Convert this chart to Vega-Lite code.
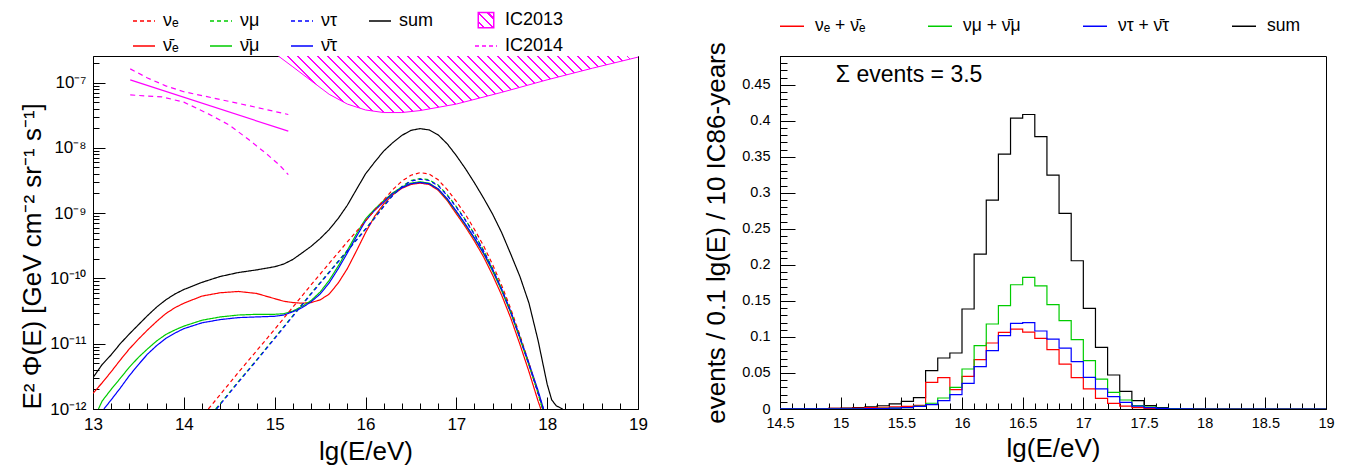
{
  "$schema": "https://vega.github.io/schema/vega-lite/v6.json",
  "background": "white",
  "padding": {"left": 18, "top": 7, "right": 0, "bottom": 0},
  "spacing": 55,
  "config": {
    "font": "Liberation Sans",
    "view": {"stroke": "black", "strokeWidth": 1},
    "axis": {"domainColor": "black", "tickColor": "black", "labelColor": "black", "titleColor": "black", "grid": false, "labelFont": "Liberation Sans", "titleFont": "Liberation Sans", "titleFontWeight": "normal", "domainWidth": 1, "tickWidth": 1},
    "legend": {"labelFont": "Liberation Sans", "labelColor": "black"}
  },
  "resolve": {"scale": {"color": "independent", "strokeDash": "independent"}},
  "hconcat": [
    {
      "width": 545,
      "height": 353,
      "resolve": {"axis": {"x": "independent", "y": "independent"}},
      "data": {"values": [
        {"s":"IC2013","x":15.04,"v":2.55e-7},{"s":"IC2013","x":15.2,"v":1.74e-7},{"s":"IC2013","x":15.4,"v":1.07e-7},{"s":"IC2013","x":15.6,"v":6.61e-8},{"s":"IC2013","x":15.8,"v":4.68e-8},{"s":"IC2013","x":16.0,"v":3.8e-8},{"s":"IC2013","x":16.2,"v":3.47e-8},{"s":"IC2013","x":16.4,"v":3.47e-8},{"s":"IC2013","x":16.6,"v":3.72e-8},{"s":"IC2013","x":17.0,"v":4.68e-8},{"s":"IC2013","x":17.5,"v":7.08e-8},{"s":"IC2013","x":18.0,"v":1.1e-7},{"s":"IC2013","x":18.5,"v":1.66e-7},{"s":"IC2013","x":19.0,"v":2.45e-7},
        {"s":"IC2014 fit","x":13.41,"v":1.1e-7},{"s":"IC2014 fit","x":15.15,"v":1.8e-8},
        {"s":"IC2014 up","x":13.41,"v":1.62e-7},{"s":"IC2014 up","x":13.6,"v":1.175e-7},{"s":"IC2014 up","x":13.8,"v":8.91e-8},{"s":"IC2014 up","x":14.0,"v":7.24e-8},{"s":"IC2014 up","x":14.3,"v":5.89e-8},{"s":"IC2014 up","x":14.7,"v":4.47e-8},{"s":"IC2014 up","x":15.15,"v":3.24e-8},
        {"s":"IC2014 low","x":13.41,"v":6.46e-8},{"s":"IC2014 low","x":13.76,"v":6.03e-8},{"s":"IC2014 low","x":14.0,"v":5.01e-8},{"s":"IC2014 low","x":14.27,"v":3.31e-8},{"s":"IC2014 low","x":14.5,"v":2.24e-8},{"s":"IC2014 low","x":14.71,"v":1.35e-8},{"s":"IC2014 low","x":14.9,"v":8.32e-9},{"s":"IC2014 low","x":15.05,"v":5.5e-9},{"s":"IC2014 low","x":15.15,"v":3.89e-9},
        {"s":"sum","x":13,"v":3.02e-12},{"s":"sum","x":13.1,"v":4.79e-12},{"s":"sum","x":13.2,"v":6.76e-12},{"s":"sum","x":13.3,"v":1e-11},{"s":"sum","x":13.4,"v":1.41e-11},{"s":"sum","x":13.5,"v":1.95e-11},{"s":"sum","x":13.6,"v":2.69e-11},{"s":"sum","x":13.7,"v":3.63e-11},{"s":"sum","x":13.8,"v":4.68e-11},{"s":"sum","x":13.9,"v":5.75e-11},{"s":"sum","x":14,"v":6.76e-11},{"s":"sum","x":14.2,"v":8.71e-11},{"s":"sum","x":14.4,"v":1.07e-10},{"s":"sum","x":14.6,"v":1.23e-10},{"s":"sum","x":14.8,"v":1.35e-10},{"s":"sum","x":15,"v":1.51e-10},{"s":"sum","x":15.1,"v":1.66e-10},{"s":"sum","x":15.2,"v":1.95e-10},{"s":"sum","x":15.3,"v":2.45e-10},{"s":"sum","x":15.4,"v":3.09e-10},{"s":"sum","x":15.5,"v":4.07e-10},{"s":"sum","x":15.6,"v":5.6e-10},{"s":"sum","x":15.7,"v":8.3e-10},{"s":"sum","x":15.8,"v":1.32e-9},{"s":"sum","x":15.9,"v":2.3e-9},{"s":"sum","x":16,"v":3.98e-9},{"s":"sum","x":16.1,"v":6.03e-9},{"s":"sum","x":16.2,"v":8.91e-9},{"s":"sum","x":16.3,"v":1.2e-8},{"s":"sum","x":16.4,"v":1.55e-8},{"s":"sum","x":16.5,"v":1.85e-8},{"s":"sum","x":16.6,"v":1.97e-8},{"s":"sum","x":16.7,"v":1.88e-8},{"s":"sum","x":16.8,"v":1.58e-8},{"s":"sum","x":16.9,"v":1.15e-8},{"s":"sum","x":17,"v":7.6e-9},{"s":"sum","x":17.1,"v":4.8e-9},{"s":"sum","x":17.2,"v":2.9e-9},{"s":"sum","x":17.3,"v":1.7e-9},{"s":"sum","x":17.4,"v":9.6e-10},{"s":"sum","x":17.5,"v":5e-10},{"s":"sum","x":17.6,"v":2.34e-10},{"s":"sum","x":17.7,"v":1.07e-10},{"s":"sum","x":17.8,"v":4.17e-11},{"s":"sum","x":17.9,"v":1.12e-11},{"s":"sum","x":18,"v":2.4e-12},{"s":"sum","x":18.05,"v":1.38e-12},{"s":"sum","x":18.1,"v":1.12e-12},{"s":"sum","x":18.17,"v":1e-12},
        {"s":"ν̄ₑ","x":13,"v":1.74e-12},{"s":"ν̄ₑ","x":13.1,"v":2.51e-12},{"s":"ν̄ₑ","x":13.2,"v":3.72e-12},{"s":"ν̄ₑ","x":13.3,"v":5.62e-12},{"s":"ν̄ₑ","x":13.4,"v":8.32e-12},{"s":"ν̄ₑ","x":13.5,"v":1.175e-11},{"s":"ν̄ₑ","x":13.6,"v":1.62e-11},{"s":"ν̄ₑ","x":13.7,"v":2.19e-11},{"s":"ν̄ₑ","x":13.8,"v":2.88e-11},{"s":"ν̄ₑ","x":13.9,"v":3.55e-11},{"s":"ν̄ₑ","x":14,"v":4.17e-11},{"s":"ν̄ₑ","x":14.2,"v":5.37e-11},{"s":"ν̄ₑ","x":14.4,"v":6.03e-11},{"s":"ν̄ₑ","x":14.6,"v":6.31e-11},{"s":"ν̄ₑ","x":14.8,"v":5.89e-11},{"s":"ν̄ₑ","x":15,"v":4.9e-11},{"s":"ν̄ₑ","x":15.1,"v":4.47e-11},{"s":"ν̄ₑ","x":15.2,"v":4.27e-11},{"s":"ν̄ₑ","x":15.3,"v":4.17e-11},{"s":"ν̄ₑ","x":15.4,"v":4.27e-11},{"s":"ν̄ₑ","x":15.5,"v":4.68e-11},{"s":"ν̄ₑ","x":15.6,"v":5.75e-11},{"s":"ν̄ₑ","x":15.7,"v":8.51e-11},{"s":"ν̄ₑ","x":15.8,"v":1.41e-10},{"s":"ν̄ₑ","x":15.9,"v":2.63e-10},{"s":"ν̄ₑ","x":16,"v":5.01e-10},{"s":"ν̄ₑ","x":16.1,"v":8.91e-10},{"s":"ν̄ₑ","x":16.2,"v":1.38e-9},{"s":"ν̄ₑ","x":16.3,"v":1.91e-9},{"s":"ν̄ₑ","x":16.4,"v":2.4e-9},{"s":"ν̄ₑ","x":16.5,"v":2.75e-9},{"s":"ν̄ₑ","x":16.6,"v":2.88e-9},{"s":"ν̄ₑ","x":16.7,"v":2.75e-9},{"s":"ν̄ₑ","x":16.8,"v":2.24e-9},{"s":"ν̄ₑ","x":16.9,"v":1.55e-9},{"s":"ν̄ₑ","x":17,"v":9.77e-10},{"s":"ν̄ₑ","x":17.1,"v":6.17e-10},{"s":"ν̄ₑ","x":17.2,"v":3.72e-10},{"s":"ν̄ₑ","x":17.3,"v":2.14e-10},{"s":"ν̄ₑ","x":17.4,"v":1.12e-10},{"s":"ν̄ₑ","x":17.5,"v":5.5e-11},{"s":"ν̄ₑ","x":17.6,"v":2.45e-11},{"s":"ν̄ₑ","x":17.7,"v":9.77e-12},{"s":"ν̄ₑ","x":17.8,"v":3.72e-12},{"s":"ν̄ₑ","x":17.9,"v":1.32e-12},{"s":"ν̄ₑ","x":17.93,"v":1e-12},
        {"s":"ν̄μ","x":13.06,"v":1e-12},{"s":"ν̄μ","x":13.1,"v":1.32e-12},{"s":"ν̄μ","x":13.2,"v":2e-12},{"s":"ν̄μ","x":13.3,"v":2.95e-12},{"s":"ν̄μ","x":13.4,"v":4.37e-12},{"s":"ν̄μ","x":13.5,"v":6.17e-12},{"s":"ν̄μ","x":13.6,"v":8.32e-12},{"s":"ν̄μ","x":13.7,"v":1.1e-11},{"s":"ν̄μ","x":13.8,"v":1.38e-11},{"s":"ν̄μ","x":13.9,"v":1.62e-11},{"s":"ν̄μ","x":14,"v":1.86e-11},{"s":"ν̄μ","x":14.2,"v":2.29e-11},{"s":"ν̄μ","x":14.4,"v":2.57e-11},{"s":"ν̄μ","x":14.6,"v":2.75e-11},{"s":"ν̄μ","x":14.8,"v":2.82e-11},{"s":"ν̄μ","x":15,"v":2.82e-11},{"s":"ν̄μ","x":15.1,"v":2.88e-11},{"s":"ν̄μ","x":15.2,"v":3.16e-11},{"s":"ν̄μ","x":15.3,"v":3.72e-11},{"s":"ν̄μ","x":15.4,"v":4.57e-11},{"s":"ν̄μ","x":15.5,"v":6.17e-11},{"s":"ν̄μ","x":15.6,"v":9.33e-11},{"s":"ν̄μ","x":15.7,"v":1.55e-10},{"s":"ν̄μ","x":15.8,"v":2.69e-10},{"s":"ν̄μ","x":15.9,"v":4.79e-10},{"s":"ν̄μ","x":16,"v":8.13e-10},{"s":"ν̄μ","x":16.1,"v":1.15e-9},{"s":"ν̄μ","x":16.2,"v":1.55e-9},{"s":"ν̄μ","x":16.3,"v":2.04e-9},{"s":"ν̄μ","x":16.4,"v":2.51e-9},{"s":"ν̄μ","x":16.5,"v":2.88e-9},{"s":"ν̄μ","x":16.6,"v":3.02e-9},{"s":"ν̄μ","x":16.7,"v":2.88e-9},{"s":"ν̄μ","x":16.8,"v":2.34e-9},{"s":"ν̄μ","x":16.9,"v":1.62e-9},{"s":"ν̄μ","x":17,"v":1.05e-9},{"s":"ν̄μ","x":17.1,"v":6.61e-10},{"s":"ν̄μ","x":17.2,"v":4.07e-10},{"s":"ν̄μ","x":17.3,"v":2.4e-10},{"s":"ν̄μ","x":17.4,"v":1.29e-10},{"s":"ν̄μ","x":17.5,"v":6.46e-11},{"s":"ν̄μ","x":17.6,"v":2.95e-11},{"s":"ν̄μ","x":17.7,"v":1.2e-11},{"s":"ν̄μ","x":17.8,"v":4.68e-12},{"s":"ν̄μ","x":17.9,"v":1.78e-12},{"s":"ν̄μ","x":17.95,"v":1e-12},
        {"s":"ν̄τ","x":13.12,"v":1e-12},{"s":"ν̄τ","x":13.2,"v":1.38e-12},{"s":"ν̄τ","x":13.3,"v":2.09e-12},{"s":"ν̄τ","x":13.4,"v":3.24e-12},{"s":"ν̄τ","x":13.5,"v":4.79e-12},{"s":"ν̄τ","x":13.6,"v":6.92e-12},{"s":"ν̄τ","x":13.7,"v":9.33e-12},{"s":"ν̄τ","x":13.8,"v":1.2e-11},{"s":"ν̄τ","x":13.9,"v":1.45e-11},{"s":"ν̄τ","x":14,"v":1.7e-11},{"s":"ν̄τ","x":14.2,"v":2.09e-11},{"s":"ν̄τ","x":14.4,"v":2.34e-11},{"s":"ν̄τ","x":14.6,"v":2.51e-11},{"s":"ν̄τ","x":14.8,"v":2.57e-11},{"s":"ν̄τ","x":15,"v":2.63e-11},{"s":"ν̄τ","x":15.1,"v":2.75e-11},{"s":"ν̄τ","x":15.2,"v":3.09e-11},{"s":"ν̄τ","x":15.3,"v":3.55e-11},{"s":"ν̄τ","x":15.4,"v":4.37e-11},{"s":"ν̄τ","x":15.5,"v":5.75e-11},{"s":"ν̄τ","x":15.6,"v":8.51e-11},{"s":"ν̄τ","x":15.7,"v":1.41e-10},{"s":"ν̄τ","x":15.8,"v":2.45e-10},{"s":"ν̄τ","x":15.9,"v":4.37e-10},{"s":"ν̄τ","x":16,"v":7.59e-10},{"s":"ν̄τ","x":16.1,"v":1.1e-9},{"s":"ν̄τ","x":16.2,"v":1.48e-9},{"s":"ν̄τ","x":16.3,"v":2e-9},{"s":"ν̄τ","x":16.4,"v":2.45e-9},{"s":"ν̄τ","x":16.5,"v":2.82e-9},{"s":"ν̄τ","x":16.6,"v":2.95e-9},{"s":"ν̄τ","x":16.7,"v":2.82e-9},{"s":"ν̄τ","x":16.8,"v":2.34e-9},{"s":"ν̄τ","x":16.9,"v":1.66e-9},{"s":"ν̄τ","x":17,"v":1.07e-9},{"s":"ν̄τ","x":17.1,"v":6.76e-10},{"s":"ν̄τ","x":17.2,"v":4.17e-10},{"s":"ν̄τ","x":17.3,"v":2.45e-10},{"s":"ν̄τ","x":17.4,"v":1.35e-10},{"s":"ν̄τ","x":17.5,"v":6.76e-11},{"s":"ν̄τ","x":17.6,"v":3.09e-11},{"s":"ν̄τ","x":17.7,"v":1.26e-11},{"s":"ν̄τ","x":17.8,"v":5.01e-12},{"s":"ν̄τ","x":17.9,"v":1.91e-12},{"s":"ν̄τ","x":17.96,"v":1e-12},
        {"s":"νₑ","x":14.27,"v":1e-12},{"s":"νₑ","x":14.4,"v":1.66e-12},{"s":"νₑ","x":14.6,"v":3.63e-12},{"s":"νₑ","x":14.8,"v":7.76e-12},{"s":"νₑ","x":15,"v":1.66e-11},{"s":"νₑ","x":15.2,"v":3.63e-11},{"s":"νₑ","x":15.4,"v":7.94e-11},{"s":"νₑ","x":15.6,"v":1.7e-10},{"s":"νₑ","x":15.8,"v":3.63e-10},{"s":"νₑ","x":16,"v":7.59e-10},{"s":"νₑ","x":16.1,"v":1.1e-9},{"s":"νₑ","x":16.2,"v":1.58e-9},{"s":"νₑ","x":16.3,"v":2.29e-9},{"s":"νₑ","x":16.4,"v":3.09e-9},{"s":"νₑ","x":16.5,"v":3.8e-9},{"s":"νₑ","x":16.6,"v":4.17e-9},{"s":"νₑ","x":16.7,"v":3.98e-9},{"s":"νₑ","x":16.8,"v":3.24e-9},{"s":"νₑ","x":16.9,"v":2.29e-9},{"s":"νₑ","x":17,"v":1.51e-9},{"s":"νₑ","x":17.1,"v":9.55e-10},{"s":"νₑ","x":17.2,"v":5.62e-10},{"s":"νₑ","x":17.3,"v":3.16e-10},{"s":"νₑ","x":17.4,"v":1.62e-10},{"s":"νₑ","x":17.5,"v":7.76e-11},{"s":"νₑ","x":17.6,"v":3.39e-11},{"s":"νₑ","x":17.7,"v":1.35e-11},{"s":"νₑ","x":17.8,"v":5.01e-12},{"s":"νₑ","x":17.9,"v":1.74e-12},{"s":"νₑ","x":17.95,"v":1e-12},
        {"s":"νμ","x":14.35,"v":1e-12},{"s":"νμ","x":14.4,"v":1.2e-12},{"s":"νμ","x":14.6,"v":2.63e-12},{"s":"νμ","x":14.8,"v":5.62e-12},{"s":"νμ","x":15,"v":1.23e-11},{"s":"νμ","x":15.2,"v":2.69e-11},{"s":"νμ","x":15.4,"v":5.89e-11},{"s":"νμ","x":15.6,"v":1.26e-10},{"s":"νμ","x":15.8,"v":2.69e-10},{"s":"νμ","x":16,"v":5.75e-10},{"s":"νμ","x":16.1,"v":8.51e-10},{"s":"νμ","x":16.2,"v":1.29e-9},{"s":"νμ","x":16.3,"v":1.91e-9},{"s":"νμ","x":16.4,"v":2.57e-9},{"s":"νμ","x":16.5,"v":3.16e-9},{"s":"νμ","x":16.6,"v":3.39e-9},{"s":"νμ","x":16.7,"v":3.24e-9},{"s":"νμ","x":16.8,"v":2.69e-9},{"s":"νμ","x":16.9,"v":1.91e-9},{"s":"νμ","x":17,"v":1.26e-9},{"s":"νμ","x":17.1,"v":7.94e-10},{"s":"νμ","x":17.2,"v":4.79e-10},{"s":"νμ","x":17.3,"v":2.69e-10},{"s":"νμ","x":17.4,"v":1.41e-10},{"s":"νμ","x":17.5,"v":6.92e-11},{"s":"νμ","x":17.6,"v":3.09e-11},{"s":"νμ","x":17.7,"v":1.26e-11},{"s":"νμ","x":17.8,"v":4.79e-12},{"s":"νμ","x":17.9,"v":1.74e-12},{"s":"νμ","x":17.95,"v":1e-12},
        {"s":"ντ","x":14.36,"v":1e-12},{"s":"ντ","x":14.4,"v":1.17e-12},{"s":"ντ","x":14.6,"v":2.57e-12},{"s":"ντ","x":14.8,"v":5.5e-12},{"s":"ντ","x":15,"v":1.2e-11},{"s":"ντ","x":15.2,"v":2.63e-11},{"s":"ντ","x":15.4,"v":5.75e-11},{"s":"ντ","x":15.6,"v":1.23e-10},{"s":"ντ","x":15.8,"v":2.63e-10},{"s":"ντ","x":16,"v":5.62e-10},{"s":"ντ","x":16.1,"v":8.32e-10},{"s":"ντ","x":16.2,"v":1.26e-9},{"s":"ντ","x":16.3,"v":1.86e-9},{"s":"ντ","x":16.4,"v":2.51e-9},{"s":"ντ","x":16.5,"v":3.09e-9},{"s":"ντ","x":16.6,"v":3.31e-9},{"s":"ντ","x":16.7,"v":3.16e-9},{"s":"ντ","x":16.8,"v":2.63e-9},{"s":"ντ","x":16.9,"v":1.86e-9},{"s":"ντ","x":17,"v":1.23e-9},{"s":"ντ","x":17.1,"v":7.76e-10},{"s":"ντ","x":17.2,"v":4.68e-10},{"s":"ντ","x":17.3,"v":2.63e-10},{"s":"ντ","x":17.4,"v":1.38e-10},{"s":"ντ","x":17.5,"v":6.76e-11},{"s":"ντ","x":17.6,"v":3.02e-11},{"s":"ντ","x":17.7,"v":1.23e-11},{"s":"ντ","x":17.8,"v":4.79e-12},{"s":"ντ","x":17.9,"v":1.74e-12},{"s":"ντ","x":17.96,"v":1e-12}
      ]},
      "layer": [
        {
          "transform": [{"filter": "datum.s == 'IC2013'"}],
          "mark": {"type": "area", "clip": true, "strokeWidth": 0, "fill": {"gradient": "linear", "x1": 0, "y1": 1, "x2": 1.1294, "y2": 0.8222, "stops": [
            {"offset":0,"color":"white"},
            {"offset":0.012,"color":"white"},{"offset":0.012,"color":"magenta"},{"offset":0.016,"color":"magenta"},{"offset":0.016,"color":"white"},
            {"offset":0.036,"color":"white"},{"offset":0.036,"color":"magenta"},{"offset":0.040,"color":"magenta"},{"offset":0.040,"color":"white"},
            {"offset":0.060,"color":"white"},{"offset":0.060,"color":"magenta"},{"offset":0.064,"color":"magenta"},{"offset":0.064,"color":"white"},
            {"offset":0.084,"color":"white"},{"offset":0.084,"color":"magenta"},{"offset":0.088,"color":"magenta"},{"offset":0.088,"color":"white"},
            {"offset":0.108,"color":"white"},{"offset":0.108,"color":"magenta"},{"offset":0.112,"color":"magenta"},{"offset":0.112,"color":"white"},
            {"offset":0.132,"color":"white"},{"offset":0.132,"color":"magenta"},{"offset":0.136,"color":"magenta"},{"offset":0.136,"color":"white"},
            {"offset":0.156,"color":"white"},{"offset":0.156,"color":"magenta"},{"offset":0.160,"color":"magenta"},{"offset":0.160,"color":"white"},
            {"offset":0.180,"color":"white"},{"offset":0.180,"color":"magenta"},{"offset":0.184,"color":"magenta"},{"offset":0.184,"color":"white"},
            {"offset":0.204,"color":"white"},{"offset":0.204,"color":"magenta"},{"offset":0.208,"color":"magenta"},{"offset":0.208,"color":"white"},
            {"offset":0.228,"color":"white"},{"offset":0.228,"color":"magenta"},{"offset":0.232,"color":"magenta"},{"offset":0.232,"color":"white"},
            {"offset":0.252,"color":"white"},{"offset":0.252,"color":"magenta"},{"offset":0.256,"color":"magenta"},{"offset":0.256,"color":"white"},
            {"offset":0.276,"color":"white"},{"offset":0.276,"color":"magenta"},{"offset":0.280,"color":"magenta"},{"offset":0.280,"color":"white"},
            {"offset":0.300,"color":"white"},{"offset":0.300,"color":"magenta"},{"offset":0.304,"color":"magenta"},{"offset":0.304,"color":"white"},
            {"offset":0.324,"color":"white"},{"offset":0.324,"color":"magenta"},{"offset":0.328,"color":"magenta"},{"offset":0.328,"color":"white"},
            {"offset":0.348,"color":"white"},{"offset":0.348,"color":"magenta"},{"offset":0.352,"color":"magenta"},{"offset":0.352,"color":"white"},
            {"offset":0.372,"color":"white"},{"offset":0.372,"color":"magenta"},{"offset":0.376,"color":"magenta"},{"offset":0.376,"color":"white"},
            {"offset":0.396,"color":"white"},{"offset":0.396,"color":"magenta"},{"offset":0.400,"color":"magenta"},{"offset":0.400,"color":"white"},
            {"offset":0.420,"color":"white"},{"offset":0.420,"color":"magenta"},{"offset":0.424,"color":"magenta"},{"offset":0.424,"color":"white"},
            {"offset":0.444,"color":"white"},{"offset":0.444,"color":"magenta"},{"offset":0.448,"color":"magenta"},{"offset":0.448,"color":"white"},
            {"offset":0.468,"color":"white"},{"offset":0.468,"color":"magenta"},{"offset":0.472,"color":"magenta"},{"offset":0.472,"color":"white"},
            {"offset":0.492,"color":"white"},{"offset":0.492,"color":"magenta"},{"offset":0.496,"color":"magenta"},{"offset":0.496,"color":"white"},
            {"offset":0.516,"color":"white"},{"offset":0.516,"color":"magenta"},{"offset":0.520,"color":"magenta"},{"offset":0.520,"color":"white"},
            {"offset":0.540,"color":"white"},{"offset":0.540,"color":"magenta"},{"offset":0.544,"color":"magenta"},{"offset":0.544,"color":"white"},
            {"offset":0.564,"color":"white"},{"offset":0.564,"color":"magenta"},{"offset":0.568,"color":"magenta"},{"offset":0.568,"color":"white"},
            {"offset":0.588,"color":"white"},{"offset":0.588,"color":"magenta"},{"offset":0.592,"color":"magenta"},{"offset":0.592,"color":"white"},
            {"offset":0.612,"color":"white"},{"offset":0.612,"color":"magenta"},{"offset":0.616,"color":"magenta"},{"offset":0.616,"color":"white"},
            {"offset":0.636,"color":"white"},{"offset":0.636,"color":"magenta"},{"offset":0.640,"color":"magenta"},{"offset":0.640,"color":"white"},
            {"offset":0.660,"color":"white"},{"offset":0.660,"color":"magenta"},{"offset":0.664,"color":"magenta"},{"offset":0.664,"color":"white"},
            {"offset":0.684,"color":"white"},{"offset":0.684,"color":"magenta"},{"offset":0.688,"color":"magenta"},{"offset":0.688,"color":"white"},
            {"offset":0.708,"color":"white"},{"offset":0.708,"color":"magenta"},{"offset":0.712,"color":"magenta"},{"offset":0.712,"color":"white"},
            {"offset":0.732,"color":"white"},{"offset":0.732,"color":"magenta"},{"offset":0.736,"color":"magenta"},{"offset":0.736,"color":"white"},
            {"offset":0.756,"color":"white"},{"offset":0.756,"color":"magenta"},{"offset":0.760,"color":"magenta"},{"offset":0.760,"color":"white"},
            {"offset":0.780,"color":"white"},{"offset":0.780,"color":"magenta"},{"offset":0.784,"color":"magenta"},{"offset":0.784,"color":"white"},
            {"offset":0.804,"color":"white"},{"offset":0.804,"color":"magenta"},{"offset":0.808,"color":"magenta"},{"offset":0.808,"color":"white"},
            {"offset":0.828,"color":"white"},{"offset":0.828,"color":"magenta"},{"offset":0.832,"color":"magenta"},{"offset":0.832,"color":"white"},
            {"offset":0.852,"color":"white"},{"offset":0.852,"color":"magenta"},{"offset":0.856,"color":"magenta"},{"offset":0.856,"color":"white"},
            {"offset":0.876,"color":"white"},{"offset":0.876,"color":"magenta"},{"offset":0.880,"color":"magenta"},{"offset":0.880,"color":"white"},
            {"offset":0.900,"color":"white"},{"offset":0.900,"color":"magenta"},{"offset":0.904,"color":"magenta"},{"offset":0.904,"color":"white"},
            {"offset":0.924,"color":"white"},{"offset":0.924,"color":"magenta"},{"offset":0.928,"color":"magenta"},{"offset":0.928,"color":"white"},
            {"offset":0.948,"color":"white"},{"offset":0.948,"color":"magenta"},{"offset":0.952,"color":"magenta"},{"offset":0.952,"color":"white"},
            {"offset":0.972,"color":"white"},{"offset":0.972,"color":"magenta"},{"offset":0.976,"color":"magenta"},{"offset":0.976,"color":"white"},
            {"offset":1,"color":"white"}
          ]}},
          "encoding": {
            "x": {"field": "x", "type": "quantitative", "scale": {"domain": [13, 19], "nice": false, "zero": false}, "axis": {
              "orient": "bottom", "title": null, "labels": false, "domain": false, "ticks": true, "tickSize": -6,
              "values": [13.2,13.4,13.6,13.8,14.2,14.4,14.6,14.8,15.2,15.4,15.6,15.8,16.2,16.4,16.6,16.8,17.2,17.4,17.6,17.8,18.2,18.4,18.6,18.8]
            }},
            "y": {"field": "v", "type": "quantitative", "scale": {"type": "log", "domain": [1e-12, 2.55e-7], "nice": false}, "axis": {
              "orient": "left", "title": null, "labels": false, "domain": false, "ticks": true, "tickSize": -6,
              "values": [2e-12,3e-12,4e-12,5e-12,6e-12,7e-12,8e-12,9e-12,2e-11,3e-11,4e-11,5e-11,6e-11,7e-11,8e-11,9e-11,2e-10,3e-10,4e-10,5e-10,6e-10,7e-10,8e-10,9e-10,2e-9,3e-9,4e-9,5e-9,6e-9,7e-9,8e-9,9e-9,2e-8,3e-8,4e-8,5e-8,6e-8,7e-8,8e-8,9e-8,2e-7]
            }},
            "y2": {"datum": 2.55e-7}
          }
        },
        {
          "transform": [{"filter": "datum.s == 'IC2013'"}],
          "mark": {"type": "line", "clip": true, "color": "magenta", "strokeWidth": 1},
          "encoding": {
            "x": {"field": "x", "type": "quantitative", "axis": null},
            "y": {"field": "v", "type": "quantitative", "axis": null}
          }
        },
        {
          "transform": [{"filter": "datum.s == 'IC2014 fit'"}],
          "mark": {"type": "line", "clip": true, "color": "magenta", "strokeWidth": 1.2},
          "encoding": {
            "x": {"field": "x", "type": "quantitative", "axis": null},
            "y": {"field": "v", "type": "quantitative", "axis": null}
          }
        },
        {
          "transform": [{"filter": "datum.s == 'IC2014 up' || datum.s == 'IC2014 low'"}],
          "mark": {"type": "line", "clip": true, "color": "magenta", "strokeWidth": 1.2, "strokeDash": [5, 4]},
          "encoding": {
            "x": {"field": "x", "type": "quantitative", "axis": null},
            "y": {"field": "v", "type": "quantitative", "axis": null},
            "detail": {"field": "s"}
          }
        },
        {
          "transform": [{"filter": "indexof(datum.s, 'IC') < 0"}],
          "mark": {"type": "line", "clip": true, "strokeWidth": 1.2},
          "encoding": {
            "x": {"field": "x", "type": "quantitative", "axis": {
              "orient": "bottom", "title": "lg(E/eV)", "titleFontSize": 26, "titlePadding": 6,
              "values": [13,14,15,16,17,18,19], "tickSize": -12,
              "labelPadding": 19, "labelFontSize": 17, "labelOverlap": false, "labelFlush": false
            }},
            "y": {"field": "v", "type": "quantitative", "axis": {
              "orient": "left", "title": "E² Φ(E) [GeV cm⁻² sr⁻¹ s⁻¹]", "titleFontSize": 26, "titleAnchor": "start", "titlePadding": 4,
              "values": [1e-12,1e-11,1e-10,1e-9,1e-8,1e-7], "tickSize": -12,
              "labelExpr": "datum.value < 5e-12 ? '10⁻¹²' : datum.value < 5e-11 ? '10⁻¹¹' : datum.value < 5e-10 ? '10⁻¹⁰' : datum.value < 5e-9 ? '10⁻⁹' : datum.value < 5e-8 ? '10⁻⁸' : '10⁻⁷'",
              "labelPadding": 19, "labelFontSize": 17, "labelOverlap": false, "labelFlush": false
            }},
            "color": {"field": "s", "type": "nominal",
              "scale": {"domain": ["νₑ","νμ","ντ","sum","IC2013","ν̄ₑ","ν̄μ","ν̄τ","mmm","IC2014"], "range": ["#ff0000","#00cc00","#0000ff","#000000","#ff00ff","#ff0000","#00cc00","#0000ff","#ffffff","#ff00ff"]},
              "legend": {"orient": "none", "legendX": 39, "legendY": -48, "direction": "horizontal", "columns": 5, "title": null, "padding": 0,
                "symbolType": "stroke", "symbolSize": 484, "symbolStrokeWidth": 1.5, "labelFontSize": 18, "labelOffset": 7, "columnPadding": 28, "rowPadding": 3,
                "encode": {
                  "symbols": {"update": {
                    "shape": {"signal": "datum.value == 'IC2013' ? 'square' : 'stroke'"},
                    "size": {"signal": "datum.value == 'IC2013' ? 240 : 484"},
                    "fill": {"value": {"gradient": "linear", "x1": 0, "y1": 1, "x2": 1, "y2": 0, "stops": [{"offset":0,"color":"white"},{"offset":0.17,"color":"white"},{"offset":0.17,"color":"magenta"},{"offset":0.24,"color":"magenta"},{"offset":0.24,"color":"white"},{"offset":0.465,"color":"white"},{"offset":0.465,"color":"magenta"},{"offset":0.535,"color":"magenta"},{"offset":0.535,"color":"white"},{"offset":0.76,"color":"white"},{"offset":0.76,"color":"magenta"},{"offset":0.83,"color":"magenta"},{"offset":0.83,"color":"white"},{"offset":1,"color":"white"}]}}
                  }},
                  "labels": {"update": {
                    "fill": {"signal": "datum.value == 'mmm' ? 'white' : 'black'"}
                  }}
                }
              }},
            "strokeDash": {"field": "s", "type": "nominal",
              "scale": {"domain": ["νₑ","νμ","ντ","sum","IC2013","ν̄ₑ","ν̄μ","ν̄τ","mmm","IC2014"], "range": [[4,3],[4,3],[4,3],[1,0],[1,0],[1,0],[1,0],[1,0],[1,0],[4,3]]},
              "legend": {"orient": "none", "legendX": 39, "legendY": -48, "direction": "horizontal", "columns": 5, "title": null, "padding": 0,
                "symbolType": "stroke", "symbolSize": 484, "symbolStrokeWidth": 1.5, "labelFontSize": 18, "labelOffset": 7, "columnPadding": 28, "rowPadding": 3}
            }
          }
        }
      ]
    },
    {
      "width": 546,
      "height": 353,
      "resolve": {"axis": {"x": "independent", "y": "independent"}},
      "data": {"values": [
        {"s":"sum","x":14.5,"n":0.0003},{"s":"sum","x":14.6,"n":0.0004},{"s":"sum","x":14.7,"n":0.0005},{"s":"sum","x":14.8,"n":0.0007},{"s":"sum","x":14.9,"n":0.001},{"s":"sum","x":15,"n":0.0014},{"s":"sum","x":15.1,"n":0.002},{"s":"sum","x":15.2,"n":0.003},{"s":"sum","x":15.3,"n":0.0045},{"s":"sum","x":15.4,"n":0.007},{"s":"sum","x":15.5,"n":0.0107},{"s":"sum","x":15.6,"n":0.0158},{"s":"sum","x":15.7,"n":0.0532},{"s":"sum","x":15.8,"n":0.0708},{"s":"sum","x":15.9,"n":0.0777},{"s":"sum","x":16,"n":0.1388},{"s":"sum","x":16.1,"n":0.2151},{"s":"sum","x":16.2,"n":0.29},{"s":"sum","x":16.3,"n":0.3538},{"s":"sum","x":16.4,"n":0.4038},{"s":"sum","x":16.5,"n":0.4088},{"s":"sum","x":16.6,"n":0.378},{"s":"sum","x":16.7,"n":0.3247},{"s":"sum","x":16.8,"n":0.2715},{"s":"sum","x":16.9,"n":0.2058},{"s":"sum","x":17,"n":0.1397},{"s":"sum","x":17.1,"n":0.0856},{"s":"sum","x":17.2,"n":0.0472},{"s":"sum","x":17.3,"n":0.0246},{"s":"sum","x":17.4,"n":0.0116},{"s":"sum","x":17.5,"n":0.0047},{"s":"sum","x":17.6,"n":0.002},{"s":"sum","x":17.7,"n":0.0007},{"s":"sum","x":17.8,"n":0.0003},{"s":"sum","x":17.9,"n":0.0001},{"s":"sum","x":18,"n":0},{"s":"sum","x":18.1,"n":0},{"s":"sum","x":18.2,"n":0},{"s":"sum","x":18.3,"n":0},{"s":"sum","x":18.4,"n":0},{"s":"sum","x":18.5,"n":0},{"s":"sum","x":18.6,"n":0},{"s":"sum","x":18.7,"n":0},{"s":"sum","x":18.8,"n":0},{"s":"sum","x":18.9,"n":0},{"s":"sum","x":19,"n":0},
        {"s":"νₑ + ν̄ₑ","x":14.5,"n":0.0002},{"s":"νₑ + ν̄ₑ","x":14.6,"n":0.0003},{"s":"νₑ + ν̄ₑ","x":14.7,"n":0.0004},{"s":"νₑ + ν̄ₑ","x":14.8,"n":0.0006},{"s":"νₑ + ν̄ₑ","x":14.9,"n":0.0008},{"s":"νₑ + ν̄ₑ","x":15,"n":0.001},{"s":"νₑ + ν̄ₑ","x":15.1,"n":0.0014},{"s":"νₑ + ν̄ₑ","x":15.2,"n":0.0018},{"s":"νₑ + ν̄ₑ","x":15.3,"n":0.0024},{"s":"νₑ + ν̄ₑ","x":15.4,"n":0.003},{"s":"νₑ + ν̄ₑ","x":15.5,"n":0.0037},{"s":"νₑ + ν̄ₑ","x":15.6,"n":0.005},{"s":"νₑ + ν̄ₑ","x":15.7,"n":0.037},{"s":"νₑ + ν̄ₑ","x":15.8,"n":0.0436},{"s":"νₑ + ν̄ₑ","x":15.9,"n":0.027},{"s":"νₑ + ν̄ₑ","x":16,"n":0.0454},{"s":"νₑ + ν̄ₑ","x":16.1,"n":0.0685},{"s":"νₑ + ν̄ₑ","x":16.2,"n":0.0916},{"s":"νₑ + ν̄ₑ","x":16.3,"n":0.1064},{"s":"νₑ + ν̄ₑ","x":16.4,"n":0.111},{"s":"νₑ + ν̄ₑ","x":16.5,"n":0.1068},{"s":"νₑ + ν̄ₑ","x":16.6,"n":0.098},{"s":"νₑ + ν̄ₑ","x":16.7,"n":0.0824},{"s":"νₑ + ν̄ₑ","x":16.8,"n":0.0624},{"s":"νₑ + ν̄ₑ","x":16.9,"n":0.0436},{"s":"νₑ + ν̄ₑ","x":17,"n":0.0278},{"s":"νₑ + ν̄ₑ","x":17.1,"n":0.0148},{"s":"νₑ + ν̄ₑ","x":17.2,"n":0.0079},{"s":"νₑ + ν̄ₑ","x":17.3,"n":0.004},{"s":"νₑ + ν̄ₑ","x":17.4,"n":0.002},{"s":"νₑ + ν̄ₑ","x":17.5,"n":0.001},{"s":"νₑ + ν̄ₑ","x":17.6,"n":0.0004},{"s":"νₑ + ν̄ₑ","x":17.7,"n":0.0002},{"s":"νₑ + ν̄ₑ","x":17.8,"n":0.0001},{"s":"νₑ + ν̄ₑ","x":17.9,"n":0},{"s":"νₑ + ν̄ₑ","x":18,"n":0},{"s":"νₑ + ν̄ₑ","x":18.1,"n":0},{"s":"νₑ + ν̄ₑ","x":18.2,"n":0},{"s":"νₑ + ν̄ₑ","x":18.3,"n":0},{"s":"νₑ + ν̄ₑ","x":18.4,"n":0},{"s":"νₑ + ν̄ₑ","x":18.5,"n":0},{"s":"νₑ + ν̄ₑ","x":18.6,"n":0},{"s":"νₑ + ν̄ₑ","x":18.7,"n":0},{"s":"νₑ + ν̄ₑ","x":18.8,"n":0},{"s":"νₑ + ν̄ₑ","x":18.9,"n":0},{"s":"νₑ + ν̄ₑ","x":19,"n":0},
        {"s":"νμ + ν̄μ","x":14.5,"n":0.0001},{"s":"νμ + ν̄μ","x":14.6,"n":0.0001},{"s":"νμ + ν̄μ","x":14.7,"n":0.0001},{"s":"νμ + ν̄μ","x":14.8,"n":0.0001},{"s":"νμ + ν̄μ","x":14.9,"n":0.0001},{"s":"νμ + ν̄μ","x":15,"n":0.0002},{"s":"νμ + ν̄μ","x":15.1,"n":0.0003},{"s":"νμ + ν̄μ","x":15.2,"n":0.0005},{"s":"νμ + ν̄μ","x":15.3,"n":0.0008},{"s":"νμ + ν̄μ","x":15.4,"n":0.0012},{"s":"νμ + ν̄μ","x":15.5,"n":0.002},{"s":"νμ + ν̄μ","x":15.6,"n":0.004},{"s":"νμ + ν̄μ","x":15.7,"n":0.008},{"s":"νμ + ν̄μ","x":15.8,"n":0.0153},{"s":"νμ + ν̄μ","x":15.9,"n":0.03},{"s":"νμ + ν̄μ","x":16,"n":0.0555},{"s":"νμ + ν̄μ","x":16.1,"n":0.088},{"s":"νμ + ν̄μ","x":16.2,"n":0.118},{"s":"νμ + ν̄μ","x":16.3,"n":0.1434},{"s":"νμ + ν̄μ","x":16.4,"n":0.1725},{"s":"νμ + ν̄μ","x":16.5,"n":0.1827},{"s":"νμ + ν̄μ","x":16.6,"n":0.171},{"s":"νμ + ν̄μ","x":16.7,"n":0.1448},{"s":"νμ + ν̄μ","x":16.8,"n":0.1226},{"s":"νμ + ν̄μ","x":16.9,"n":0.0963},{"s":"νμ + ν̄μ","x":17,"n":0.0671},{"s":"νμ + ν̄μ","x":17.1,"n":0.0416},{"s":"νμ + ν̄μ","x":17.2,"n":0.0232},{"s":"νμ + ν̄μ","x":17.3,"n":0.0125},{"s":"νμ + ν̄μ","x":17.4,"n":0.0047},{"s":"νμ + ν̄μ","x":17.5,"n":0.0025},{"s":"νμ + ν̄μ","x":17.6,"n":0.001},{"s":"νμ + ν̄μ","x":17.7,"n":0.0004},{"s":"νμ + ν̄μ","x":17.8,"n":0.0001},{"s":"νμ + ν̄μ","x":17.9,"n":0},{"s":"νμ + ν̄μ","x":18,"n":0},{"s":"νμ + ν̄μ","x":18.1,"n":0},{"s":"νμ + ν̄μ","x":18.2,"n":0},{"s":"νμ + ν̄μ","x":18.3,"n":0},{"s":"νμ + ν̄μ","x":18.4,"n":0},{"s":"νμ + ν̄μ","x":18.5,"n":0},{"s":"νμ + ν̄μ","x":18.6,"n":0},{"s":"νμ + ν̄μ","x":18.7,"n":0},{"s":"νμ + ν̄μ","x":18.8,"n":0},{"s":"νμ + ν̄μ","x":18.9,"n":0},{"s":"νμ + ν̄μ","x":19,"n":0},
        {"s":"ντ + ν̄τ","x":14.5,"n":0.0001},{"s":"ντ + ν̄τ","x":14.6,"n":0.0001},{"s":"ντ + ν̄τ","x":14.7,"n":0.0001},{"s":"ντ + ν̄τ","x":14.8,"n":0.0001},{"s":"ντ + ν̄τ","x":14.9,"n":0.0001},{"s":"ντ + ν̄τ","x":15,"n":0.0002},{"s":"ντ + ν̄τ","x":15.1,"n":0.0003},{"s":"ντ + ν̄τ","x":15.2,"n":0.0004},{"s":"ντ + ν̄τ","x":15.3,"n":0.0007},{"s":"ντ + ν̄τ","x":15.4,"n":0.0011},{"s":"ντ + ν̄τ","x":15.5,"n":0.002},{"s":"ντ + ν̄τ","x":15.6,"n":0.0037},{"s":"ντ + ν̄τ","x":15.7,"n":0.006},{"s":"ντ + ν̄τ","x":15.8,"n":0.0117},{"s":"ντ + ν̄τ","x":15.9,"n":0.02},{"s":"ντ + ν̄τ","x":16,"n":0.0357},{"s":"ντ + ν̄τ","x":16.1,"n":0.0588},{"s":"ντ + ν̄τ","x":16.2,"n":0.081},{"s":"ντ + ν̄τ","x":16.3,"n":0.1018},{"s":"ντ + ν̄τ","x":16.4,"n":0.1189},{"s":"ντ + ν̄τ","x":16.5,"n":0.12},{"s":"ντ + ν̄τ","x":16.6,"n":0.1083},{"s":"ντ + ν̄τ","x":16.7,"n":0.0971},{"s":"ντ + ν̄τ","x":16.8,"n":0.0846},{"s":"ντ + ν̄τ","x":16.9,"n":0.0658},{"s":"ντ + ν̄τ","x":17,"n":0.044},{"s":"ντ + ν̄τ","x":17.1,"n":0.0278},{"s":"ντ + ν̄τ","x":17.2,"n":0.0172},{"s":"ντ + ν̄τ","x":17.3,"n":0.0093},{"s":"ντ + ν̄τ","x":17.4,"n":0.004},{"s":"ντ + ν̄τ","x":17.5,"n":0.002},{"s":"ντ + ν̄τ","x":17.6,"n":0.0008},{"s":"ντ + ν̄τ","x":17.7,"n":0.0003},{"s":"ντ + ν̄τ","x":17.8,"n":0.0001},{"s":"ντ + ν̄τ","x":17.9,"n":0},{"s":"ντ + ν̄τ","x":18,"n":0},{"s":"ντ + ν̄τ","x":18.1,"n":0},{"s":"ντ + ν̄τ","x":18.2,"n":0},{"s":"ντ + ν̄τ","x":18.3,"n":0},{"s":"ντ + ν̄τ","x":18.4,"n":0},{"s":"ντ + ν̄τ","x":18.5,"n":0},{"s":"ντ + ν̄τ","x":18.6,"n":0},{"s":"ντ + ν̄τ","x":18.7,"n":0},{"s":"ντ + ν̄τ","x":18.8,"n":0},{"s":"ντ + ν̄τ","x":18.9,"n":0},{"s":"ντ + ν̄τ","x":19,"n":0}
      ]},
      "layer": [
        {
          "mark": {"type": "line", "interpolate": "step-after", "clip": true, "strokeWidth": 1.2},
          "encoding": {
            "x": {"field": "x", "type": "quantitative", "scale": {"domain": [14.5, 19], "nice": false, "zero": false}, "axis": {
              "orient": "bottom", "title": "lg(E/eV)", "titleFontSize": 26, "titlePadding": 6,
              "values": [14.5,15,15.5,16,16.5,17,17.5,18,18.5,19], "tickSize": -12,
              "labelExpr": "'' + datum.value",
              "labelPadding": 19, "labelFontSize": 14.5, "labelOverlap": false, "labelFlush": false
            }},
            "y": {"field": "n", "type": "quantitative", "scale": {"domain": [0, 0.49], "nice": false}, "axis": {
              "orient": "left", "title": "events / 0.1 lg(E) / 10 IC86-years", "titleFontSize": 26, "titlePadding": 12,
              "values": [0,0.05,0.1,0.15,0.2,0.25,0.3,0.35,0.4,0.45], "tickSize": -15,
              "labelExpr": "'' + datum.value",
              "labelPadding": 25, "labelFontSize": 14.5, "labelOverlap": false, "labelFlush": false
            }},
            "color": {"field": "s", "type": "nominal",
              "scale": {"domain": ["νₑ + ν̄ₑ","νμ + ν̄μ","ντ + ν̄τ","sum"], "range": ["#ff0000","#00cc00","#0000ff","#000000"]},
              "legend": {"orient": "none", "legendX": -1, "legendY": -43, "direction": "horizontal", "title": null, "padding": 0,
                "symbolType": "stroke", "symbolSize": 576, "symbolStrokeWidth": 1.5, "labelFontSize": 17.5, "labelOffset": 10, "columnPadding": 59}
            }
          }
        },
        {
          "data": {"values": [{"label": "Σ events = 3.5"}]},
          "mark": {"type": "text", "align": "left", "baseline": "middle", "fontSize": 23, "fontWeight": "normal", "font": "Liberation Sans", "fill": "black"},
          "encoding": {
            "text": {"field": "label"},
            "x": {"datum": 14.96, "type": "quantitative", "axis": {
              "orient": "bottom", "title": null, "labels": false, "domain": false, "ticks": true, "tickSize": -6,
              "values": [14.6,14.7,14.8,14.9,15.1,15.2,15.3,15.4,15.6,15.7,15.8,15.9,16.1,16.2,16.3,16.4,16.6,16.7,16.8,16.9,17.1,17.2,17.3,17.4,17.6,17.7,17.8,17.9,18.1,18.2,18.3,18.4,18.6,18.7,18.8,18.9]
            }},
            "y": {"datum": 0.463, "type": "quantitative", "axis": {
              "orient": "left", "title": null, "labels": false, "domain": false, "ticks": true, "tickSize": -7,
              "values": [0.01,0.02,0.03,0.04,0.06,0.07,0.08,0.09,0.11,0.12,0.13,0.14,0.16,0.17,0.18,0.19,0.21,0.22,0.23,0.24,0.26,0.27,0.28,0.29,0.31,0.32,0.33,0.34,0.36,0.37,0.38,0.39,0.41,0.42,0.43,0.44,0.46,0.47,0.48,0.49]
            }}
          }
        }
      ]
    }
  ]
}
